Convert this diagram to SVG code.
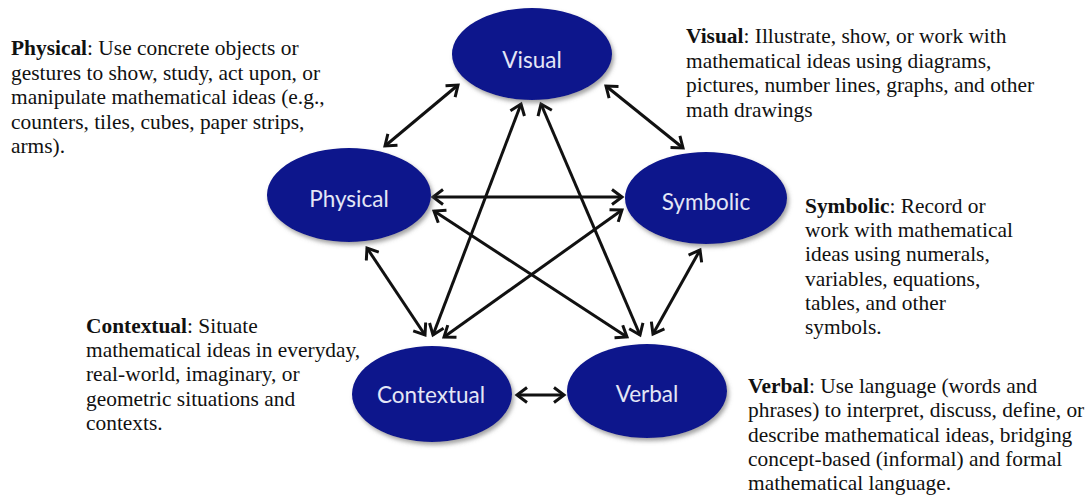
<svg xmlns="http://www.w3.org/2000/svg" width="1086" height="495" viewBox="0 0 1086 495">
<style>
.node{fill:#0c178c;filter:url(#sh);}
.lbl{font-family:Lato,"Open Sans",sans-serif;font-size:22.5px;fill:#e4e6f6;text-anchor:middle;}
.desc{font-family:"Liberation Serif","Times New Roman",serif;font-size:21.4px;fill:#111;}
.desc tspan.b{font-weight:bold;}
.arr{stroke:#111;stroke-width:3;fill:none;marker-start:url(#ah);marker-end:url(#ah);}
</style>
<defs>
<filter id="sh" x="-20%" y="-20%" width="140%" height="150%">
<feDropShadow dx="2" dy="3" stdDeviation="2" flood-color="#666" flood-opacity="0.6"/>
</filter>
<marker id="ah" markerUnits="userSpaceOnUse" markerWidth="16" markerHeight="18" viewBox="-12 -9 14 18" refX="0" refY="0" orient="auto-start-reverse">
<path d="M-10,-7.5 L0,0 L-10,7.5" fill="none" stroke="#111" stroke-width="3" stroke-linejoin="miter"/>
</marker>
</defs>
<rect width="1086" height="495" fill="#fff"/>
<g id="connectors">
<line class="arr" x1="385" y1="146" x2="458" y2="85"/>
<line class="arr" x1="606" y1="86" x2="683" y2="148"/>
<line class="arr" x1="433" y1="197" x2="622" y2="197"/>
<line class="arr" x1="434" y1="211" x2="627" y2="337"/>
<line class="arr" x1="622" y1="210" x2="444" y2="337"/>
<line class="arr" x1="521" y1="104" x2="433" y2="335"/>
<line class="arr" x1="541" y1="104" x2="640" y2="335"/>
<line class="arr" x1="367" y1="248" x2="425" y2="335"/>
<line class="arr" x1="700" y1="250" x2="653" y2="334"/>
<line class="arr" x1="517" y1="395" x2="564" y2="395"/>
</g>
<g id="visual">
<ellipse class="node" cx="532" cy="54" rx="80" ry="46"/>
<text class="lbl" x="532" y="68">Visual</text>
</g>
<g id="physical">
<ellipse class="node" cx="349" cy="195" rx="82" ry="47"/>
<text class="lbl" x="349" y="207">Physical</text>
</g>
<g id="symbolic">
<ellipse class="node" cx="706" cy="198" rx="81" ry="46"/>
<text class="lbl" x="706" y="210">Symbolic</text>
</g>
<g id="contextual">
<ellipse class="node" cx="432" cy="394" rx="80" ry="48"/>
<text class="lbl" x="431" y="403">Contextual</text>
</g>
<g id="verbal">
<ellipse class="node" cx="647" cy="391" rx="80" ry="47"/>
<text class="lbl" x="647" y="402">Verbal</text>
</g>
<g id="physical-desc">
<text class="desc" x="11" y="55"><tspan class="b">Physical</tspan>: Use concrete objects or</text>
<text class="desc" x="11" y="80">gestures to show, study, act upon, or</text>
<text class="desc" x="11" y="104">manipulate mathematical ideas (e.g.,</text>
<text class="desc" x="11" y="129">counters, tiles, cubes, paper strips,</text>
<text class="desc" x="11" y="153">arms).</text>
</g>
<g id="visual-desc">
<text class="desc" x="686" y="43"><tspan class="b">Visual</tspan>: Illustrate, show, or work with</text>
<text class="desc" x="686" y="68">mathematical ideas using diagrams,</text>
<text class="desc" x="686" y="92">pictures, number lines, graphs, and other</text>
<text class="desc" x="686" y="117">math drawings</text>
</g>
<g id="symbolic-desc">
<text class="desc" x="805" y="213"><tspan class="b">Symbolic</tspan>: Record or</text>
<text class="desc" x="805" y="237">work with mathematical</text>
<text class="desc" x="805" y="261">ideas using numerals,</text>
<text class="desc" x="805" y="286">variables, equations,</text>
<text class="desc" x="805" y="310">tables, and other</text>
<text class="desc" x="805" y="334">symbols.</text>
</g>
<g id="contextual-desc">
<text class="desc" x="86" y="333"><tspan class="b">Contextual</tspan>: Situate</text>
<text class="desc" x="86" y="357">mathematical ideas in everyday,</text>
<text class="desc" x="86" y="381">real-world, imaginary, or</text>
<text class="desc" x="86" y="406">geometric situations and</text>
<text class="desc" x="86" y="430">contexts.</text>
</g>
<g id="verbal-desc">
<text class="desc" x="748" y="393"><tspan class="b">Verbal</tspan>: Use language (words and</text>
<text class="desc" x="748" y="417">phrases) to interpret, discuss, define, or</text>
<text class="desc" x="748" y="442">describe mathematical ideas, bridging</text>
<text class="desc" x="748" y="466">concept-based (informal) and formal</text>
<text class="desc" x="748" y="490">mathematical language.</text>
</g>
</svg>
